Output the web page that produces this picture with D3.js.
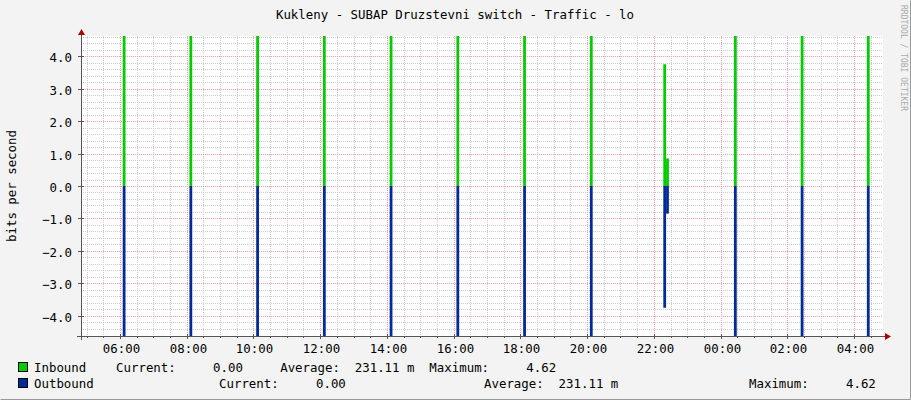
<!DOCTYPE html>
<html><head><meta charset="utf-8">
<script src="https://cdn.jsdelivr.net/npm/d3@7"></script>
<style>body{margin:0;background:#f3f3f3}text{font-family:"DejaVu Sans Mono",monospace}</style>
</head><body><svg id="c" width="911" height="400"></svg>
<script>
const timeTicks = ["06:00","08:00","10:00","12:00","14:00","16:00","18:00","20:00","22:00","00:00","02:00","04:00"];
const yTicks = [-4,-3,-2,-1,0,1,2,3,4];
const spikeTimes = ["06:05","08:05","10:05","12:05","14:05","16:05","18:05","20:05","22:17","22:22","00:24","02:24","04:23"];
const inbound  = [4.62,4.62,4.62,4.62,4.62,4.62,4.62,4.62,3.75,0.85,4.62,4.62,4.62];
const outbound = [4.62,4.62,4.62,4.62,4.62,4.62,4.62,4.62,3.75,0.85,4.62,4.62,4.62];
const legendRows = [
 {color:"#00cc00", parts:[[34,"Inbound    Current:     0.00     Average:  231.11 m  Maximum:     4.62"]]},
 {color:"#002a97", parts:[[34,"Outbound"],[219,"Current:     0.00"],[484,"Average:  231.11 m"],[749,"Maximum:     4.62"]]}
];
const svg=d3.select("#c");
const L=81,R=883,T=36,B=336;
const start=new Date(2020,0,1,4,50), end=new Date(2020,0,2,4,52);
function toDate(s){const [h,m]=s.split(":").map(Number);let d=new Date(2020,0,1,h,m);if(d<start)d=new Date(2020,0,2,h,m);return d;}
const x=d3.scaleTime().domain([start,end]).range([L,R]);
const y=d3.scaleLinear().domain([-4.62,4.62]).range([B,T]);
svg.append("rect").attr("x",0).attr("y",0).attr("width",911).attr("height",400).attr("fill","#f3f3f3");
svg.append("rect").attr("x",L).attr("y",T).attr("width",R-L).attr("height",B-T).attr("fill","#fff");
svg.append("path").attr("d","M0.5,399.5H910.5V0.5").attr("stroke","#999").attr("fill","none");
const g=svg.append("g");
x.ticks(d3.timeMinute.every(30)).forEach(t=>{const X=Math.round(x(t))+.5;g.append("line").attr("x1",X).attr("x2",X).attr("y1",T).attr("y2",B).attr("stroke","#ccc").attr("stroke-dasharray","1,1");});
d3.range(-22,24).map(i=>i*0.2).forEach(v=>{const Y=Math.round(y(v))+.5;g.append("line").attr("x1",L).attr("x2",R).attr("y1",Y).attr("y2",Y).attr("stroke","#ccc").attr("stroke-dasharray","1,1");});
timeTicks.forEach(s=>{const X=Math.round(x(toDate(s)))+.5;g.append("line").attr("x1",X).attr("x2",X).attr("y1",T).attr("y2",B).attr("stroke","#f4a0a0").attr("stroke-dasharray","1,1");});
yTicks.forEach(v=>{const Y=Math.round(y(v))+.5;g.append("line").attr("x1",L).attr("x2",R).attr("y1",Y).attr("y2",Y).attr("stroke","#f4a0a0").attr("stroke-dasharray","1,1");});
spikeTimes.forEach((s,i)=>{const t=toDate(s);const x0=x(t),x1=x(new Date(+t+5*60000));
 g.append("rect").attr("x",x0).attr("width",x1-x0).attr("y",y(inbound[i])).attr("height",y(0)-y(inbound[i])).attr("fill","#00cc00");
 g.append("rect").attr("x",x0).attr("width",x1-x0).attr("y",y(0)).attr("height",y(-outbound[i])-y(0)).attr("fill","#002a97");});
svg.append("line").attr("x1",L-4).attr("x2",R+2).attr("y1",B+.5).attr("y2",B+.5).attr("stroke","#555");
svg.append("line").attr("x1",L+.5).attr("x2",L+.5).attr("y1",T-6).attr("y2",B+4).attr("stroke","#555");
svg.append("path").attr("d",`M${R+2},${B-3}L${R+8},${B+.5}L${R+2},${B+4}Z`).attr("fill","#a00");
svg.append("path").attr("d",`M${L-3},${T-1}L${L+.5},${T-7}L${L+4},${T-1}Z`).attr("fill","#a00");
x.ticks(d3.timeMinute.every(30)).forEach(t=>{const X=Math.round(x(t))+.5;svg.append("line").attr("x1",X).attr("x2",X).attr("y1",B).attr("y2",B+2).attr("stroke","#555");});
timeTicks.forEach(s=>{const X=Math.round(x(toDate(s)))+.5;svg.append("line").attr("x1",X).attr("x2",X).attr("y1",B-2).attr("y2",B+3).attr("stroke","#555");
 svg.append("text").attr("x",X+1).attr("y",B+17).attr("text-anchor","middle").attr("font-size",12.4).attr("fill","#000").text(s);});
yTicks.forEach(v=>{const Y=Math.round(y(v))+.5;svg.append("line").attr("x1",L-3).attr("x2",L+3).attr("y1",Y).attr("y2",Y).attr("stroke","#555");
 svg.append("text").attr("x",L-9).attr("y",Y+5).attr("text-anchor","end").attr("font-size",12.4).text(d3.format(".1f")(v));});
svg.append("text").attr("transform","translate(16,186) rotate(-90)").attr("text-anchor","middle").attr("font-size",12.4).text("bits per second");
svg.append("text").attr("x",455).attr("y",19).attr("text-anchor","middle").attr("font-size",12.4).text("Kukleny - SUBAP Druzstevni switch - Traffic - lo");
svg.append("text").attr("transform","translate(901,5) rotate(90)").attr("font-size",8).attr("fill","#aaa").text("RRDTOOL / TOBI OETIKER");
legendRows.forEach((r,i)=>{const Y=362+i*16;
 svg.append("rect").attr("x",18.5).attr("y",Y+.5).attr("width",9).attr("height",9).attr("fill",r.color).attr("stroke","#000");
 r.parts.forEach(p=>svg.append("text").attr("x",p[0]).attr("y",Y+10).attr("font-size",12.4).attr("xml:space","preserve").style("white-space","pre").text(p[1]));});
</script></body></html>
